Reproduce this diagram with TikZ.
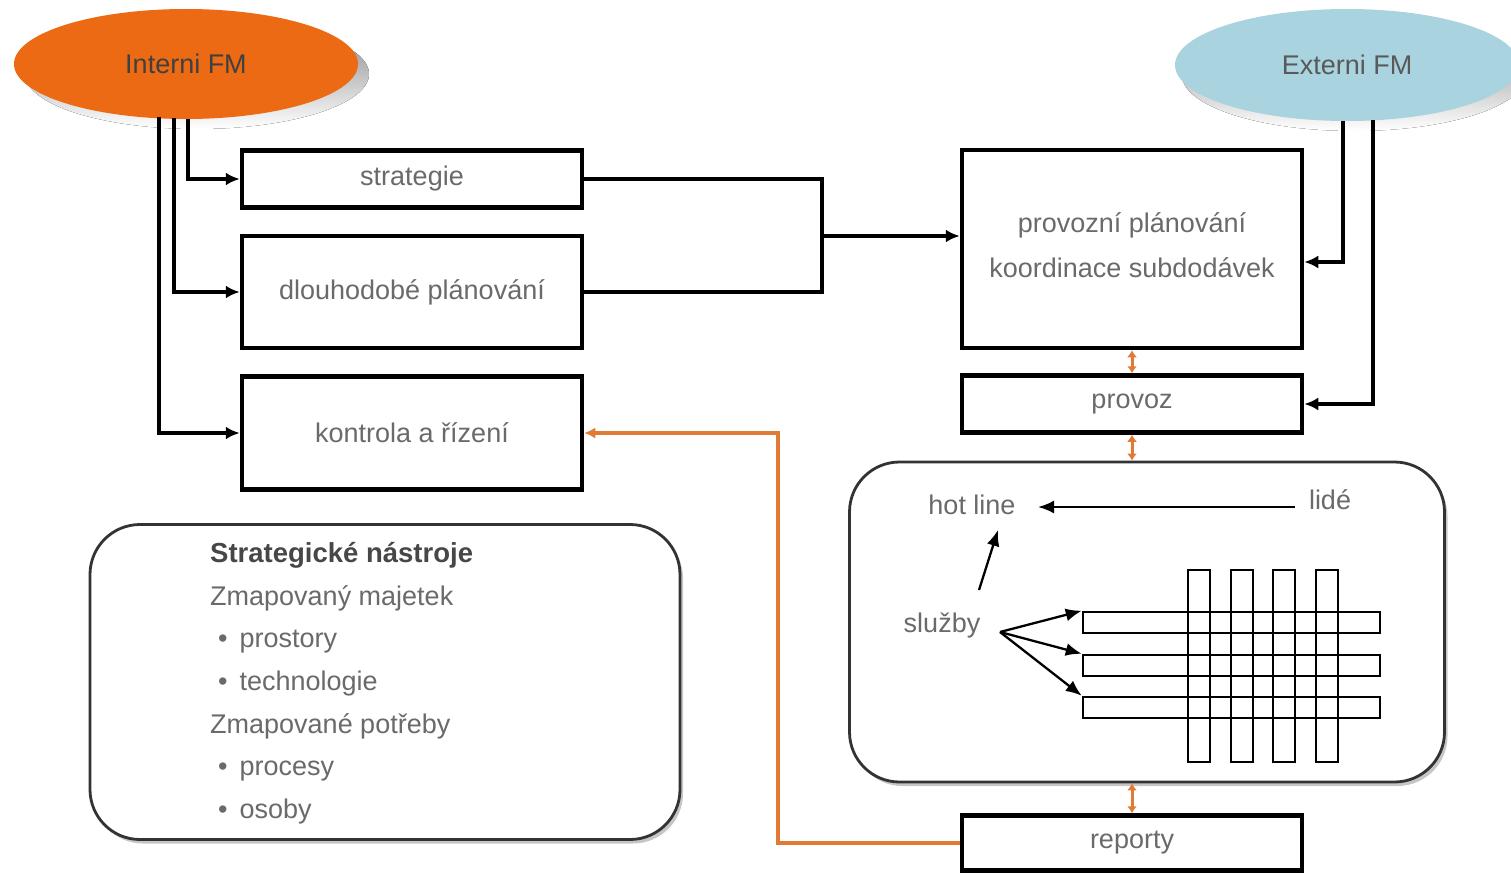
\documentclass[tikz,border=0pt]{standalone}
\usepackage{fontspec}
\setmainfont{Liberation Sans}
\usetikzlibrary{arrows.meta,shapes.geometric,shadows}
\definecolor{forange}{HTML}{EC6A14}
\definecolor{lorange}{HTML}{E07A35}
\definecolor{fblue}{HTML}{A9D4DF}
\definecolor{txt}{HTML}{6A6A6A}
\definecolor{shade}{HTML}{7E7E86}
\newcommand{\fsz}{\fontsize{27}{32}\selectfont}
\begin{document}
\begin{tikzpicture}[x=1pt,y=-1pt,
  box/.style={draw=black, line width=4.5pt, fill=white, text=txt, font=\fsz, inner sep=0pt, align=center},
  rbox/.style={draw=black!80, line width=2.8pt, fill=white, rounded corners=50pt, inner sep=0pt,
     drop shadow={shadow xshift=3pt, shadow yshift=-4pt, opacity=0.45}},
  oval/.style={ellipse, inner sep=0pt, font=\fsz},
  conn/.style={line width=4.5pt, draw=black},
  carr/.style={conn, -{Latex[length=14pt,width=13pt]}},
  oline/.style={line width=4pt, draw=lorange},
  oarr/.style={line width=3pt, draw=lorange, {Latex[length=7pt,width=10pt]}-{Latex[length=7pt,width=10pt]}},
  iarr/.style={line width=2.3pt, draw=black, -{Latex[length=16pt,width=13pt]}},
  lbl/.style={text=txt, font=\fsz, inner sep=0pt},
  bar/.style={draw=black, line width=2.5pt, inner sep=0pt}
]
\useasboundingbox (0,0) rectangle (1511,872);

% ellipses with shadows
\fill[shade] (197,74) ellipse (172pt and 55pt);
\node[oval, fill=forange, minimum width=344pt, minimum height=110pt, text=black!75] (int) at (186,64) {Interni FM};
\fill[shade] (1354,75) ellipse (172pt and 56pt);
\node[oval, fill=fblue, minimum width=344pt, minimum height=112pt, text=black!65] (ext) at (1347,65) {Externi FM};

% left boxes
\node[box, minimum width=340pt, minimum height=57pt] (strat) at (412,179) {strategie};
\node[box, minimum width=340pt, minimum height=112pt] (dlouh) at (412,292) {dlouhodobé plánování};
\node[box, minimum width=340pt, minimum height=113pt] (kontr) at (412,433) {kontrola a řízení};

% right boxes
\node[box, minimum width=340pt, minimum height=198pt] (prov) at (1132,249) {};
\node[lbl] (provt1) at (1132,225) {provozní plánování};
\node[lbl] (provt2) at (1132,268) {koordinace subdodávek};
\node[box, minimum width=340pt, minimum height=57pt] (provoz) at (1132,404) {provoz};
\node[box, minimum width=340pt, minimum height=55pt] (rep) at (1132,843) {reporty};

% big rounded box
\node[rbox, minimum width=595pt, minimum height=320pt] (big) at (1147,622) {};
% strategic tools box
\node[rbox, minimum width=590pt, minimum height=315pt] (tools) at (385,682) {};
\node[anchor=north west, inner sep=0pt, text=txt, align=left, font=\fontsize{27}{42.7}\selectfont] (toolst) at (210,542)
 {{\color{black!72}\bfseries\fontsize{27.5}{42.7}\selectfont Strategické nástroje}\\
  Zmapovaný majetek\\
  \hspace*{8pt}\textbullet\hspace{12pt}prostory\\
  \hspace*{8pt}\textbullet\hspace{12pt}technologie\\
  Zmapované potřeby\\
  \hspace*{8pt}\textbullet\hspace{12pt}procesy\\
  \hspace*{8pt}\textbullet\hspace{12pt}osoby};

% connectors from Interni FM
\draw[carr] ([xshift=2pt]int.south) |- (strat.west);
\draw[carr] ([xshift=-12pt,yshift=1pt]int.south) |- (dlouh.west);
\draw[carr] ([xshift=-27pt,yshift=2pt]int.south) |- (kontr.west);

% strategie / dlouhodobe to provozni
\coordinate (j) at (822,236);
\draw[conn] (strat.east) -| (j);
\draw[conn] (dlouh.east) -| (j);
\draw[carr] (j) -- (j -| prov.west);

% connectors from Externi FM
\draw[carr] ([xshift=-4pt]ext.south) |- ([yshift=-13pt]prov.east);
\draw[carr] ([xshift=26pt,yshift=1pt]ext.south) |- (provoz.east);

% orange
\draw[oarr] (prov.south) -- (provoz.north);
\draw[oarr] (provoz.south) -- (provoz.south |- big.north);
\draw[oarr] (rep.north |- big.south) -- (rep.north);
\draw[oline, -{Latex[length=11pt,width=11pt]}] (rep.west) -- ++(-182,0) |- (kontr.east);

% inside big box
\node[lbl] (hot) at (972,505) {hot line};
\node[lbl] (lide) at (1330,500) {lidé};
\node[lbl] (sluz) at (942,625) {služby};
\coordinate (lw) at (1295,507);
\draw[iarr] (lw) -- (lw -| 1038,0);
\coordinate (sn) at (979,590);
\draw[iarr] (sn) -- (998,530);

\foreach \x in {1188,1231,1273,1316}
  \draw[bar] (\x,570) rectangle ++(22,192);
\node[bar, minimum width=297pt, minimum height=21pt] (b1) at (1231.5,622.5) {};
\node[bar, minimum width=297pt, minimum height=21pt] (b2) at (1231.5,665.5) {};
\node[bar, minimum width=297pt, minimum height=21pt] (b3) at (1231.5,707.5) {};
\coordinate (sp) at (1000,632);
\draw[iarr] (sp) -- (b1.north west);
\draw[iarr] (sp) -- (b2.north west);
\draw[iarr] (sp) -- (b3.north west);
\end{tikzpicture}
\end{document}
